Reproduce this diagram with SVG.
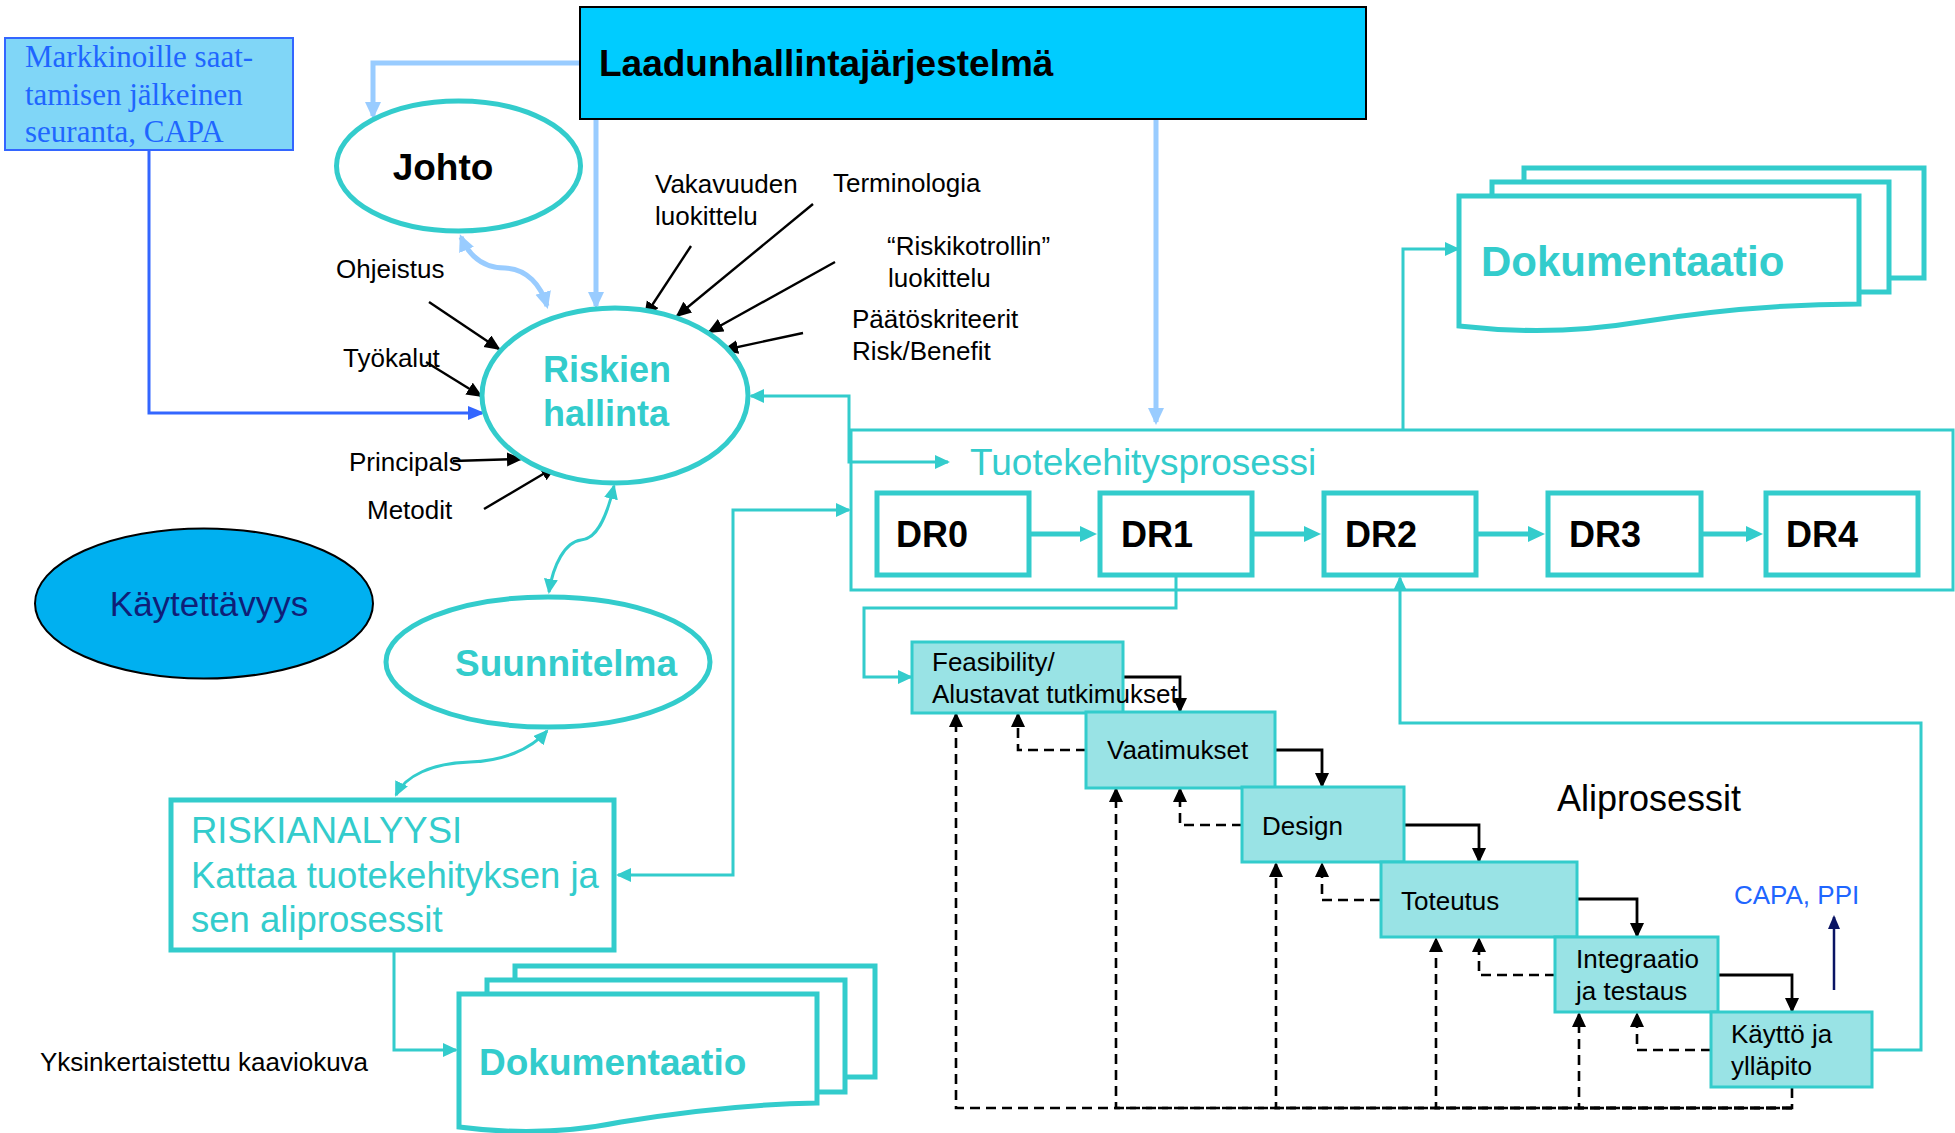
<svg xmlns="http://www.w3.org/2000/svg" width="1955" height="1133" viewBox="0 0 1955 1133">
<style>
.sans{font-family:"Liberation Sans",Arial,sans-serif}
.lbl{font-family:"Liberation Sans",Arial,sans-serif;font-size:26px;fill:#000}
.tealb{font-family:"Liberation Sans",Arial,sans-serif;font-weight:bold;fill:#33CCCC}
.drt{font-family:"Liberation Sans",Arial,sans-serif;font-weight:bold;font-size:36px;fill:#000}
.dr{fill:#fff;stroke:#33CCCC;stroke-width:5}
.sub{fill:#99E3E5;stroke:#33CCCC;stroke-width:3}
.ell{fill:#fff;stroke:#33CCCC;stroke-width:5}
.doc{fill:#fff;stroke:#33CCCC;stroke-width:5}
.tc{fill:none;stroke:#33CCCC;stroke-width:3}
.lb{fill:none;stroke:#99CCFF;stroke-width:5}
.bk{fill:none;stroke:#000;stroke-width:2.4}
.bs{fill:none;stroke:#000;stroke-width:2.8}
.ds{fill:none;stroke:#000;stroke-width:2.6;stroke-dasharray:10,6}
</style>
<defs>
<marker id="at" markerUnits="userSpaceOnUse" markerWidth="16" markerHeight="14" refX="13" refY="7" orient="auto-start-reverse"><path d="M0,0 L15,7 L0,14 z" fill="#33CCCC"/></marker>
<marker id="atb" markerUnits="userSpaceOnUse" markerWidth="18" markerHeight="18" refX="1" refY="8" orient="auto"><path d="M0,0 L17,8 L0,16 z" fill="#33CCCC"/></marker>
<marker id="alb" markerUnits="userSpaceOnUse" markerWidth="18" markerHeight="18" refX="14" refY="8" orient="auto-start-reverse"><path d="M0,0 L17,8 L0,16 z" fill="#99CCFF"/></marker>
<marker id="ab" markerUnits="userSpaceOnUse" markerWidth="18" markerHeight="16" refX="14" refY="7" orient="auto"><path d="M0,0 L16,7 L0,14 z" fill="#000"/></marker>
<marker id="as" markerUnits="userSpaceOnUse" markerWidth="16" markerHeight="16" refX="13" refY="7" orient="auto"><path d="M0,0 L15,7 L0,14 z" fill="#000"/></marker>
<marker id="abl" markerUnits="userSpaceOnUse" markerWidth="18" markerHeight="16" refX="14" refY="7" orient="auto"><path d="M0,0 L17,7 L0,14 z" fill="#3366FF"/></marker>
<marker id="anv" markerUnits="userSpaceOnUse" markerWidth="14" markerHeight="16" refX="12" refY="6" orient="auto"><path d="M0,0 L14,6 L0,12 z" fill="#0A1464"/></marker>
</defs>
<rect width="1955" height="1133" fill="#fff"/>

<g id="connectors">
<path class="lb" d="M580,63 H373 V116" marker-end="url(#alb)"/>
<path class="lb" d="M596,119 V306" marker-end="url(#alb)"/>
<path class="lb" d="M1156,119 V422" marker-end="url(#alb)"/>
<path class="lb" d="M461,237 C470,258 485,268 505,268 C527,269 541,285 547,306" marker-start="url(#alb)" marker-end="url(#alb)"/>
<path d="M149,150 V413 H482" fill="none" stroke="#3366FF" stroke-width="3" marker-end="url(#abl)"/>
<line class="bk" x1="691" y1="246" x2="645" y2="316" marker-end="url(#ab)"/>
<line class="bk" x1="813" y1="204" x2="677" y2="316" marker-end="url(#ab)"/>
<line class="bk" x1="835" y1="262" x2="709" y2="332" marker-end="url(#ab)"/>
<line class="bk" x1="803" y1="333" x2="724" y2="350" marker-end="url(#ab)"/>
<line class="bk" x1="429" y1="302" x2="499" y2="349" marker-end="url(#ab)"/>
<line class="bk" x1="426" y1="362" x2="481" y2="396" marker-end="url(#ab)"/>
<line class="bk" x1="453" y1="461" x2="521" y2="459" marker-end="url(#ab)"/>
<line class="bk" x1="484" y1="509" x2="555" y2="467" marker-end="url(#ab)"/>
<path class="tc" d="M614,486 C606,520 596,539 581,540 C565,542 553,565 549,592" marker-start="url(#at)" marker-end="url(#at)"/>
<path class="tc" d="M547,731 C530,750 502,761 470,762 C432,763 405,776 396,795" marker-start="url(#at)" marker-end="url(#at)"/>
<path class="tc" d="M948,462 H849 V396 H751" marker-start="url(#at)" marker-end="url(#at)"/>
<path class="tc" d="M849,510 H733 V875 H618" marker-start="url(#at)" marker-end="url(#at)"/>
<path class="tc" d="M394,951 V1050 H456" marker-end="url(#at)"/>
<path class="tc" d="M1403,429 V249 H1458" marker-end="url(#at)"/>
<path class="tc" d="M1176,577 V608 H864 V677 H911" marker-end="url(#at)"/>
<path class="tc" d="M1872,1050 H1921 V723 H1400 V578" marker-end="url(#at)"/>
<g stroke="#33CCCC" stroke-width="5" fill="none">
<line x1="1031" y1="534" x2="1081" y2="534" marker-end="url(#atb)"/>
<line x1="1254" y1="534" x2="1305" y2="534" marker-end="url(#atb)"/>
<line x1="1478" y1="534" x2="1529" y2="534" marker-end="url(#atb)"/>
<line x1="1703" y1="534" x2="1747" y2="534" marker-end="url(#atb)"/>
</g>
<path class="bs" d="M1123,677 H1180 V711" marker-end="url(#as)"/>
<path class="bs" d="M1275,750 H1322 V786" marker-end="url(#as)"/>
<path class="bs" d="M1404,825 H1479 V861" marker-end="url(#as)"/>
<path class="bs" d="M1577,899 H1637 V936" marker-end="url(#as)"/>
<path class="bs" d="M1718,975 H1792 V1011" marker-end="url(#as)"/>
<path class="ds" d="M1086,750 H1018 V714" marker-end="url(#as)"/>
<path class="ds" d="M1242,825 H1180 V789" marker-end="url(#as)"/>
<path class="ds" d="M1380,900 H1322 V864" marker-end="url(#as)"/>
<path class="ds" d="M1555,975 H1479 V939" marker-end="url(#as)"/>
<path class="ds" d="M1711,1050 H1637 V1014" marker-end="url(#as)"/>
<path class="ds" d="M1792,1088 V1108 H956 V714" marker-end="url(#as)"/>
<path class="ds" d="M1792,1108 H1116 V789" marker-end="url(#as)"/>
<path class="ds" d="M1792,1108 H1276 V864" marker-end="url(#as)"/>
<path class="ds" d="M1792,1108 H1436 V939" marker-end="url(#as)"/>
<path class="ds" d="M1792,1108 H1579 V1014" marker-end="url(#as)"/>
<line x1="1834" y1="990" x2="1834" y2="917" stroke="#0A1464" stroke-width="2.5" marker-end="url(#anv)"/>
</g>

<g id="laadunhallinta">
<rect x="580" y="7" width="786" height="112" fill="#00CCFF" stroke="#000" stroke-width="2"/>
<text class="sans" x="599" y="76" font-size="37" font-weight="bold" fill="#000">Laadunhallintajärjestelmä</text>
</g>
<g id="markkinoille">
<rect x="5" y="38" width="288" height="112" fill="#80D6F7" stroke="#3366FF" stroke-width="2"/>
<g font-family="'Liberation Serif','Times New Roman',serif" font-size="31" fill="#1F66FF">
<text x="25" y="67">Markkinoille saat-</text>
<text x="25" y="105">tamisen jälkeinen</text>
<text x="25" y="142">seuranta, CAPA</text>
</g>
</g>
<g id="johto">
<ellipse class="ell" cx="458.5" cy="166" rx="122" ry="65"/>
<text class="sans" x="443" y="180" font-size="37" font-weight="bold" text-anchor="middle" fill="#000">Johto</text>
</g>
<g id="riskien-hallinta">
<ellipse class="ell" cx="615" cy="395.5" rx="133" ry="87.5"/>
<text class="tealb" x="543" y="382" font-size="36">Riskien</text>
<text class="tealb" x="543" y="426" font-size="36">hallinta</text>
</g>
<g id="suunnitelma">
<ellipse class="ell" cx="548" cy="662" rx="162" ry="65"/>
<text class="tealb" x="566" y="676" font-size="37" text-anchor="middle">Suunnitelma</text>
</g>
<g id="kaytettavyys">
<ellipse cx="204" cy="603.5" rx="169" ry="75" fill="#00B0F0" stroke="#000" stroke-width="2"/>
<text class="sans" x="209" y="616" font-size="35" text-anchor="middle" fill="#0F1F78">Käytettävyys</text>
</g>
<g id="riskianalyysi">
<rect x="171" y="800" width="443" height="150" fill="#fff" stroke="#33CCCC" stroke-width="5"/>
<g class="sans" font-size="36.5" fill="#33CCCC">
<text x="191" y="843">RISKIANALYYSI</text>
<text x="191" y="888">Kattaa tuotekehityksen ja</text>
<text x="191" y="932">sen aliprosessit</text>
</g>
</g>
<g id="dokumentaatio-ala">
<rect class="doc" x="515" y="966" width="360" height="111"/>
<rect class="doc" x="487" y="980" width="358" height="112"/>
<path class="doc" d="M459,994 H817 V1103 C755,1104 688,1111 621,1122 C567,1133 513,1134 459,1127 Z"/>
<text class="tealb" x="479" y="1075" font-size="37">Dokumentaatio</text>
</g>
<g id="dokumentaatio-yla">
<rect class="doc" x="1524" y="168" width="400" height="110"/>
<rect class="doc" x="1492" y="182" width="397" height="110"/>
<path class="doc" d="M1459,196 H1859 V304 C1790,304 1715,310 1640,322 C1580,332 1520,333 1459,326 Z"/>
<text class="tealb" x="1481" y="276" font-size="42">Dokumentaatio</text>
</g>
<g id="tuotekehitysprosessi">
<rect x="851" y="430" width="1102" height="160" fill="none" stroke="#33CCCC" stroke-width="3"/>
<text class="sans" x="970" y="475" font-size="37" fill="#33CCCC">Tuotekehitysprosessi</text>
</g>
<g id="dr0"><rect class="dr" x="877" y="493" width="152" height="82"/><text class="drt" x="896" y="547">DR0</text></g>
<g id="dr1"><rect class="dr" x="1100" y="493" width="152" height="82"/><text class="drt" x="1121" y="547">DR1</text></g>
<g id="dr2"><rect class="dr" x="1324" y="493" width="152" height="82"/><text class="drt" x="1345" y="547">DR2</text></g>
<g id="dr3"><rect class="dr" x="1548" y="493" width="153" height="82"/><text class="drt" x="1569" y="547">DR3</text></g>
<g id="dr4"><rect class="dr" x="1766" y="493" width="152" height="82"/><text class="drt" x="1786" y="547">DR4</text></g>
<g id="feasibility"><rect class="sub" x="912" y="642" width="211" height="71"/><text class="lbl" x="932" y="671">Feasibility/</text><text class="lbl" x="932" y="703">Alustavat tutkimukset</text></g>
<g id="vaatimukset"><rect class="sub" x="1086" y="712" width="189" height="76"/><text class="lbl" x="1107" y="759">Vaatimukset</text></g>
<g id="design"><rect class="sub" x="1242" y="787" width="162" height="75"/><text class="lbl" x="1262" y="835">Design</text></g>
<g id="toteutus"><rect class="sub" x="1381" y="862" width="196" height="75"/><text class="lbl" x="1401" y="910">Toteutus</text></g>
<g id="integraatio"><rect class="sub" x="1555" y="937" width="163" height="75"/><text class="lbl" x="1576" y="968">Integraatio</text><text class="lbl" x="1576" y="1000">ja testaus</text></g>
<g id="kaytto"><rect class="sub" x="1711" y="1012" width="161" height="75"/><text class="lbl" x="1731" y="1043">Käyttö ja</text><text class="lbl" x="1731" y="1075">ylläpito</text></g>

<g id="labels">
<text class="lbl" x="655" y="193">Vakavuuden</text>
<text class="lbl" x="655" y="225">luokittelu</text>
<text class="lbl" x="833" y="192">Terminologia</text>
<text class="lbl" x="887" y="255">“Riskikotrollin”</text>
<text class="lbl" x="888" y="287">luokittelu</text>
<text class="lbl" x="852" y="328">Päätöskriteerit</text>
<text class="lbl" x="852" y="360">Risk/Benefit</text>
<text class="lbl" x="336" y="278">Ohjeistus</text>
<text class="lbl" x="343" y="367">Työkalut</text>
<text class="lbl" x="349" y="471">Principals</text>
<text class="lbl" x="367" y="519">Metodit</text>
<text class="lbl" x="40" y="1071">Yksinkertaistettu kaaviokuva</text>
<text class="sans" x="1557" y="811" font-size="36" fill="#000">Aliprosessit</text>
<text class="sans" x="1734" y="904" font-size="26" fill="#1F66FF">CAPA, PPI</text>
</g>
</svg>
